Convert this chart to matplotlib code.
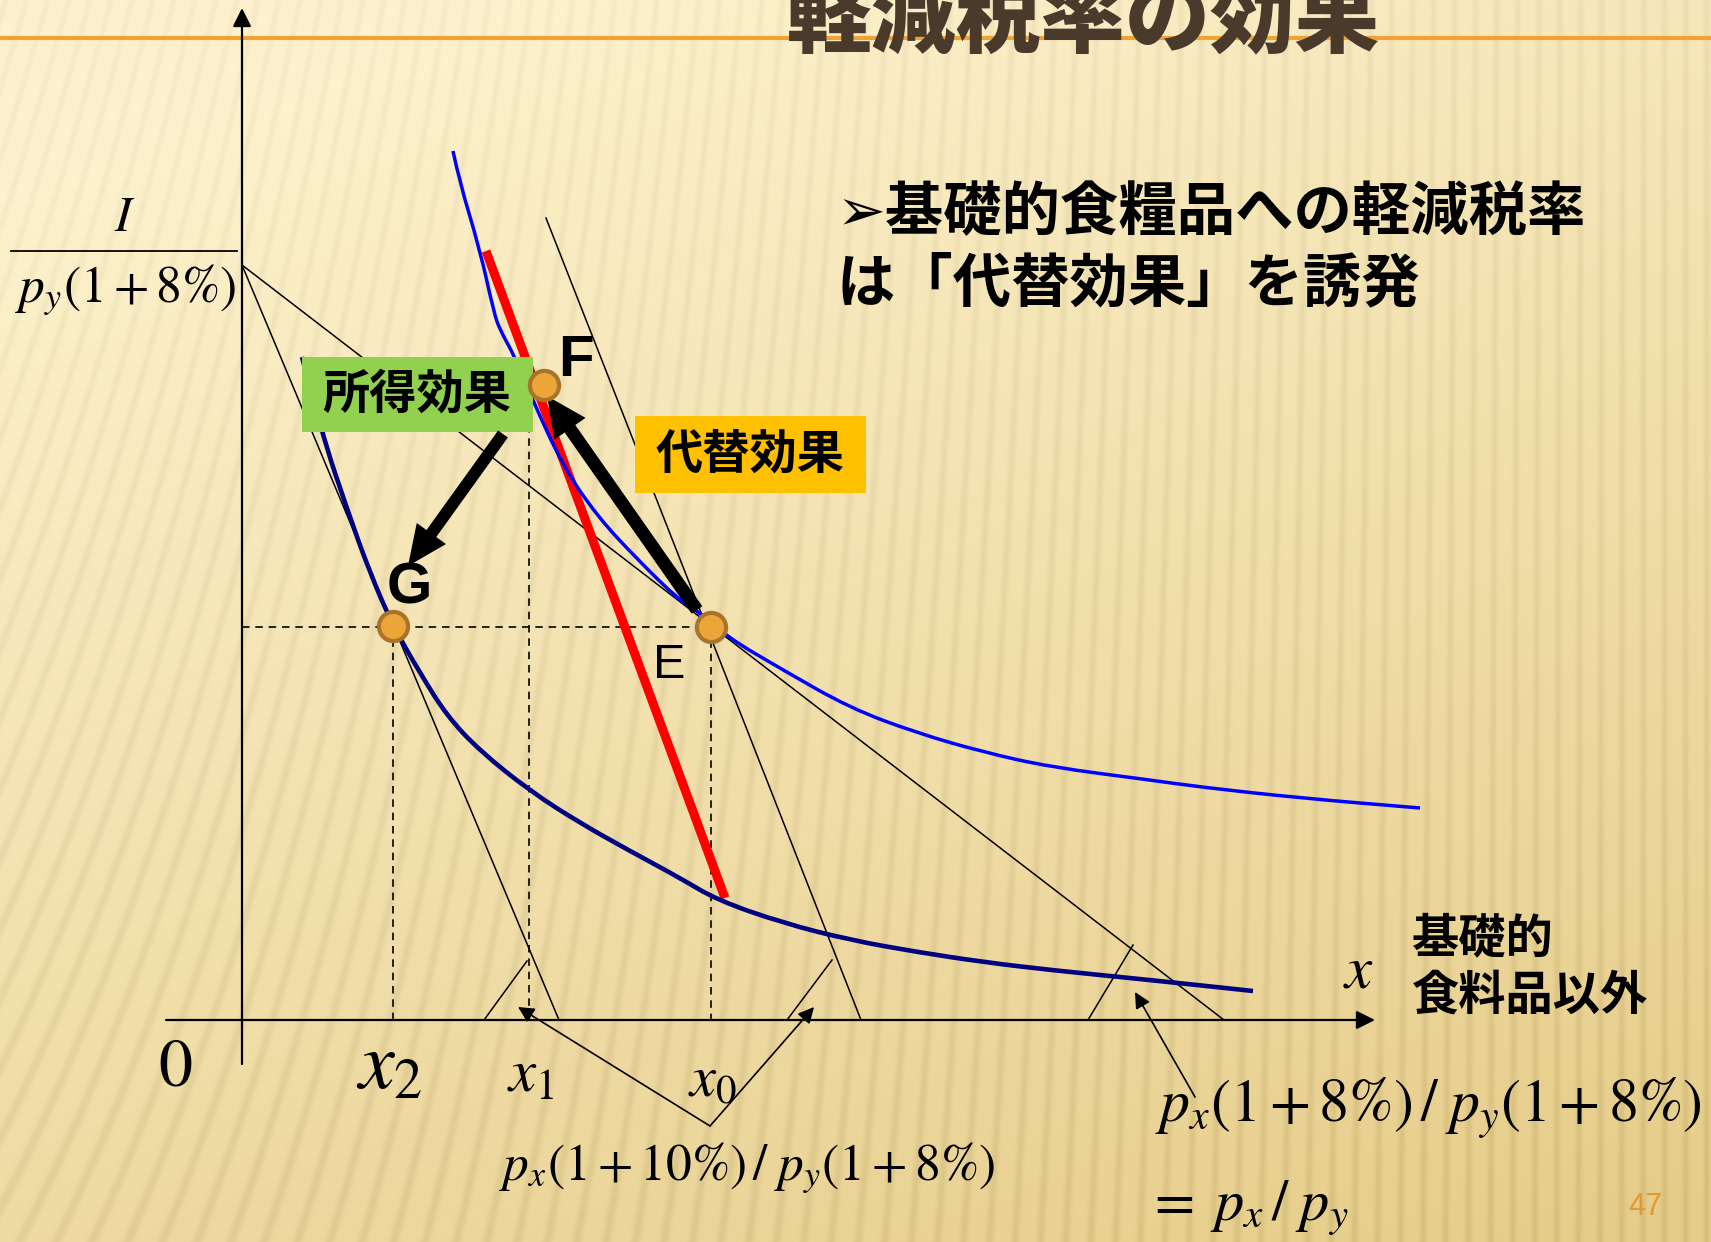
import numpy as np
import matplotlib
import matplotlib.pyplot as plt
from matplotlib.patches import Rectangle, PathPatch
from matplotlib.path import Path

matplotlib.use('Agg')
plt.rcParams['mathtext.fontset'] = 'stix'

W, H = 1711, 1242  # slide size in px, diagram drawn in slide pixel coords (y down)
JP = ['Noto Sans CJK JP', 'DejaVu Sans']

# axes of the diagram
origin = (242, 1020)
y_axis_top = 8
x_axis_end = 1375

# equilibrium points
pt_E = (711, 627)
pt_F = (544, 385)
pt_G = (393, 626)

# budget lines (start, end)
line_8_8 = [(242, 265), (1224, 1020)]     # p_x(1+8%)/p_y(1+8%)
line_10_8 = [(242, 265), (559, 1020)]     # p_x(1+10%)/p_y(1+8%)
line_10_8_E = [(546, 218), (861, 1020)]   # parallel line through E
line_comp = [(486, 251), (725, 898)]      # compensated budget line (red)

# indifference curves
ic_high_x = [453, 459, 480, 494, 500, 515, 533, 563, 597, 637, 680, 697, 727, 783, 850, 917, 983, 1050, 1150, 1200, 1300, 1420]
ic_high_y = [151, 180, 250, 313, 330, 357, 401, 466, 516, 559, 601, 610, 637, 670, 708, 733, 752, 767, 780, 787, 798, 808]
ic_low_x = [302, 322, 347, 370, 393, 420, 447, 480, 530, 580, 630, 680, 717, 783, 850, 917, 983, 1050, 1150, 1253]
ic_low_y = [357, 434, 509, 573, 626, 673, 716, 751, 791, 823, 851, 878, 900, 923, 940, 952, 962, 970, 980, 991]

# angle marks on x-axis
angle_marks = [[(484, 1020), (527, 961)], [(787, 1020), (832, 960)], [(1088, 1020), (1133, 945)]]


def smooth_path(xs, ys):
    """
    Quadratic bezier through midpoints so the read points give a smooth curve
    """
    pts = list(zip(xs, ys))
    verts = [pts[0]]
    codes = [Path.MOVETO]
    for i in range(1, len(pts) - 1):
        mid = ((pts[i][0] + pts[i + 1][0]) / 2, (pts[i][1] + pts[i + 1][1]) / 2)
        verts += [pts[i], mid]
        codes += [Path.CURVE3, Path.CURVE3]
    verts.append(pts[-1])
    codes.append(Path.LINETO)
    return Path(verts, codes)


fig = plt.figure(figsize=(W / 100, H / 100), dpi=100)
ax = fig.add_axes([0, 0, 1, 1])

# slide background: cream to gold gradient with thin stripes
yy, xx = np.mgrid[0:H, 0:W].astype(float)
t = np.clip(0.75 * yy / H + 0.4 * xx / W - 0.12, 0, 1)
top = np.array([253, 242, 205]) / 255
bot = np.array([230, 205, 138]) / 255
img = top + (bot - top) * t[..., None]
slant = 0.3 * (1 - xx / W) ** 2
stripe = (0.5 + 0.5 * np.sin(2 * np.pi * (xx + slant * yy) / 21.0)) ** 4
img = np.clip(img - 0.05 * stripe[..., None] * (0.6 + 0.6 * t[..., None]), 0, 1)
ax.imshow(img, extent=(0, W, H, 0), zorder=0, aspect='auto')

ax.set_xlim(0, W)
ax.set_ylim(H, 0)
ax.axis('off')

# header rule and title
ax.plot([0, W], [38, 38], color='#f0a232', lw=3, zorder=1)
ax.text(1084, 64, '軽減税率の効果', ha='center', va='bottom', fontsize=61,
        fontweight='heavy', color='#4a3a2c', family=JP, zorder=2)

# axes arrows
ax.annotate('', xy=(origin[0], y_axis_top), xytext=(origin[0], 1064),
            arrowprops=dict(arrowstyle='-|>', color='k', lw=1.6, mutation_scale=28, shrinkA=0, shrinkB=0), zorder=3)
ax.annotate('', xy=(x_axis_end, origin[1]), xytext=(166, origin[1]),
            arrowprops=dict(arrowstyle='-|>', color='k', lw=1.6, mutation_scale=28, shrinkA=0, shrinkB=0), zorder=3)

# budget lines
for ln in [line_8_8, line_10_8, line_10_8_E] + angle_marks:
    ax.plot([p[0] for p in ln], [p[1] for p in ln], color='k', lw=1.1, zorder=2)

# dashed guides
dash = dict(color='k', lw=1.2, ls=(0, (4.5, 3.5)), zorder=2)
ax.plot([origin[0], pt_E[0]], [pt_E[1], pt_E[1]], **dash)
ax.plot([pt_G[0], pt_G[0]], [pt_G[1], origin[1]], **dash)
ax.plot([529, 529], [pt_F[1], origin[1]], **dash)
ax.plot([pt_E[0], pt_E[0]], [pt_E[1], origin[1]], **dash)

# compensated line and indifference curves
ax.plot([p[0] for p in line_comp], [p[1] for p in line_comp], color='#ff0000', lw=6.5,
        solid_capstyle='butt', zorder=3)
ax.add_patch(PathPatch(smooth_path(ic_high_x, ic_high_y), facecolor='none', edgecolor='#0000ff', lw=2.5, zorder=4))
ax.add_patch(PathPatch(smooth_path(ic_low_x, ic_low_y), facecolor='none', edgecolor='#000080', lw=3.3, zorder=4))

# effect boxes
ax.add_patch(Rectangle((302, 357), 231, 75, facecolor='#92d050', edgecolor='none', zorder=5))
ax.text(417, 395, '所得効果', ha='center', va='center', fontsize=34, fontweight='bold', family=JP, zorder=6)
ax.add_patch(Rectangle((635, 416), 231, 77, facecolor='#ffc000', edgecolor='none', zorder=5))
ax.text(750, 455, '代替効果', ha='center', va='center', fontsize=34, fontweight='bold', family=JP, zorder=6)

# effect arrows
ax.arrow(697, 610, 547 - 697, 396 - 610, width=13, head_width=38, head_length=40,
         length_includes_head=True, color='k', lw=0, zorder=7)
ax.arrow(503, 434, 408 - 503, 566 - 434, width=12, head_width=36, head_length=40,
         length_includes_head=True, color='k', lw=0, zorder=7)

# small pointer arrows for slope labels
thin = dict(arrowstyle='-|>', color='k', lw=1.2, mutation_scale=24, shrinkA=0, shrinkB=0)
ax.annotate('', xy=(518, 1007), xytext=(710, 1126), arrowprops=thin, zorder=3)
ax.annotate('', xy=(814, 1007), xytext=(710, 1126), arrowprops=thin, zorder=3)
ax.annotate('', xy=(1135, 992), xytext=(1195, 1097), arrowprops=thin, zorder=3)

# equilibrium markers
for p in [pt_E, pt_F, pt_G]:
    ax.plot(p[0], p[1], 'o', ms=21, mfc='#eca539', mec='#a8732a', mew=3, zorder=8)

ax.text(576, 361, 'F', ha='center', va='center', fontsize=42, fontweight='bold', family='Liberation Sans', zorder=9)
ax.text(409, 588, 'G', ha='center', va='center', fontsize=42, fontweight='bold', family='Liberation Sans', zorder=9)
ax.text(669, 666, 'E', ha='center', va='center', fontsize=35, family='Liberation Sans', zorder=9)

# y intercept I / p_y(1+8%)
ax.text(125, 217, r'$I$', ha='center', va='center', fontsize=36, zorder=9)
ax.plot([11, 237], [251, 251], color='k', lw=1.3, zorder=9)
ax.text(126, 290, r'$p_y(1+8\%)$', ha='center', va='center', fontsize=37, zorder=9)

# axis labels
ax.text(175, 1067, r'$0$', ha='center', va='center', fontsize=49, zorder=9)
ax.text(389, 1066, r'$x_2$', ha='center', va='center', fontsize=58, zorder=9)
ax.text(531, 1075, r'$x_1$', ha='center', va='center', fontsize=44, zorder=9)
ax.text(712, 1080, r'$x_0$', ha='center', va='center', fontsize=42, zorder=9)
ax.text(1358, 971, r'$x$', ha='center', va='center', fontsize=44, zorder=9)
ax.text(1412, 938, '基礎的', ha='left', va='center', fontsize=34, fontweight='bold', family=JP, zorder=9)
ax.text(1412, 996, '食料品以外', ha='left', va='center', fontsize=34, fontweight='bold', family=JP, zorder=9)

# slope labels
ax.text(747, 1168, r'$p_x(1+10\%)\,/\;p_y(1+8\%)$', ha='center', va='center', fontsize=37, zorder=9)
ax.text(1428, 1108, r'$p_x(1+8\%)\,/\;p_y(1+8\%)$', ha='center', va='center', fontsize=43, zorder=9)
ax.text(1146, 1208, r'$=\;p_x\,/\;p_y$', ha='left', va='center', fontsize=42, zorder=9)

# bullet text
ax.text(837, 213, '➢基礎的食糧品への軽減税率', ha='left', va='center', fontsize=42, fontweight='bold', family=JP, zorder=9)
ax.text(837, 284, 'は「代替効果」を誘発', ha='left', va='center', fontsize=42, fontweight='bold', family=JP, zorder=9)

# page number
ax.text(1645, 1207, '47', ha='center', va='center', fontsize=22, color='#e09a30', family='Liberation Sans', zorder=9)

fig.savefig('out.png', dpi=100)
